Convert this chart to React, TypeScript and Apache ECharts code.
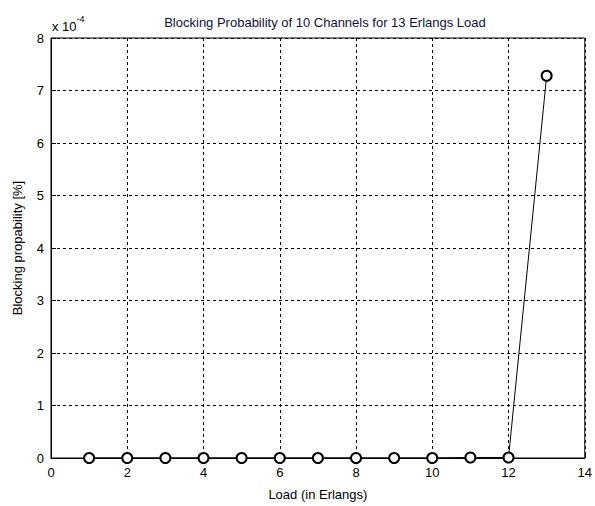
import React, { useEffect, useRef } from "react";
import * as echarts from "echarts";

const loads = [1, 2, 3, 4, 5, 6, 7, 8, 9, 10, 11, 12, 13];
const blocking = [0, 0, 0, 0, 0, 0, 0, 0, 0, 0, 0.000001, 0.000001, 0.000728];
const xTicks = [0, 2, 4, 6, 8, 10, 12, 14];
const yTicks = [0, 1, 2, 3, 4, 5, 6, 7, 8];

const FONT = "Liberation Sans, Arial, sans-serif";

export default function App() {
  const ref = useRef<HTMLDivElement>(null);
  useEffect(() => {
    if (!ref.current) return;
    const chart = echarts.init(ref.current, undefined, { renderer: "svg" });
    const grid = { left: 51, right: 7, top: 38, bottom: 44 };
    chart.setOption({
      animation: false,
      backgroundColor: "#fff",
      textStyle: { fontFamily: FONT },
      title: {
        text: "Blocking Probability of 10 Channels for 13 Erlangs Load",
        left: 320,
        textAlign: "center",
        top: 11,
        textStyle: { fontSize: 13, fontWeight: "normal", color: "#101040", fontFamily: FONT },
      },
      grid: { ...grid, show: true, borderColor: "#000", borderWidth: 1 },
      xAxis: {
        type: "value",
        min: xTicks[0],
        max: xTicks[xTicks.length - 1],
        interval: 2,
        name: "Load (in Erlangs)",
        nameLocation: "middle",
        nameGap: 30,
        nameTextStyle: { fontSize: 13, color: "#000", fontFamily: FONT },
        axisLine: { show: true, lineStyle: { color: "#000", width: 1 } },
        axisTick: { show: true, inside: true, length: 5, lineStyle: { color: "#000" } },
        axisLabel: { fontSize: 13, color: "#000", margin: 8, fontFamily: FONT },
        splitLine: { show: true, lineStyle: { color: "#000", type: [3, 3], width: 1 } },
      },
      yAxis: {
        type: "value",
        min: 0,
        max: yTicks[yTicks.length - 1] * 1e-4,
        interval: 1e-4,
        name: "Blocking propability [%]",
        nameLocation: "middle",
        nameGap: 27,
        nameRotate: 90,
        nameTextStyle: { fontSize: 13, color: "#000", fontFamily: FONT },
        axisLine: { show: true, lineStyle: { color: "#000", width: 1 } },
        axisTick: { show: true, inside: true, length: 5, lineStyle: { color: "#000" } },
        axisLabel: {
          fontSize: 13,
          color: "#000",
          margin: 7,
          fontFamily: FONT,
          formatter: (v: number) => String(Math.round(v * 1e4)),
        },
        splitLine: { show: true, lineStyle: { color: "#000", type: [3, 3], width: 1 } },
      },
      graphic: [
        {
          type: "text",
          left: 52,
          top: 14,
          style: {
            text: "{a|x 10}{b|-4}",
            rich: {
              a: { fontSize: 13, fill: "#000", fontFamily: FONT, padding: [6, 0, 0, 0] },
              b: { fontSize: 9, fill: "#000", fontFamily: FONT, verticalAlign: "top" },
            },
          },
        },
      ],
      series: [
        {
          type: "line",
          data: loads.map((x, i) => [x, blocking[i]]),
          symbol: "emptyCircle",
          symbolSize: 10,
          showSymbol: true,
          lineStyle: { color: "#000", width: 1 },
          itemStyle: { color: "#000", borderColor: "#000", borderWidth: 1 },
          z: 5,
        },
      ],
    });
    return () => chart.dispose();
  }, []);
  return (
    <div
      ref={ref}
      style={{ position: "absolute", left: 0, top: 0, width: 595, height: 506 }}
    />
  );
}
